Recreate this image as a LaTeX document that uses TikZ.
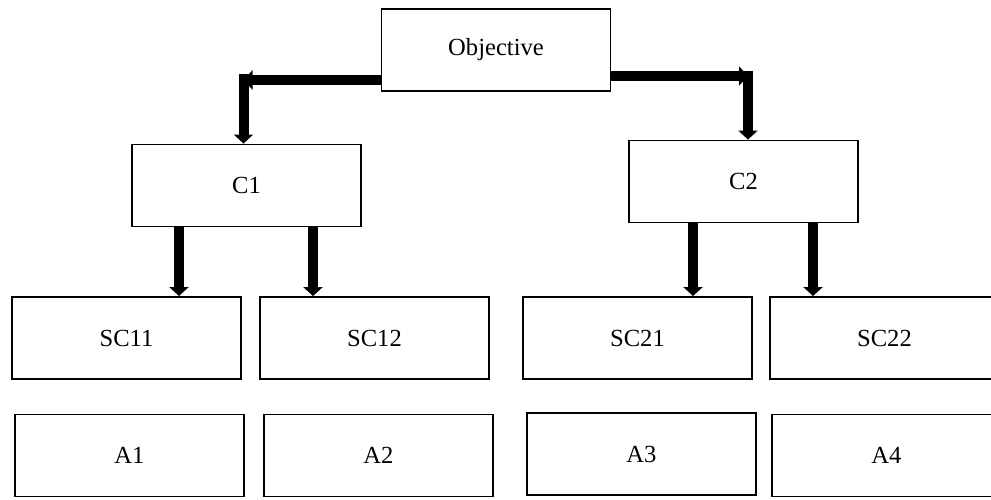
\documentclass[tikz,border=0pt]{standalone}
\usepackage{fontspec}
\setmainfont{Liberation Serif}
\usepackage{tikz}
\usetikzlibrary{arrows.meta, positioning, calc}

\begin{document}
\begin{tikzpicture}[
    x=0.02cm, y=-0.02cm,
    box/.style={rectangle, draw=black, line width=1.1pt, fill=white, minimum width=4.58cm, minimum height=1.64cm, inner sep=0pt, font=\fontsize{14}{16}\selectfont},
    conn/.style={-{Triangle[width=0.38cm, length=0.18cm]}, line width=0.2cm, color=black},
]
\clip (0,0) rectangle (991,500);
\fill[white] (0,0) rectangle (991,500);

\node[box] (obj) at (496,50) {Objective};
\node[box] (c1) at (246.5,185.5) {C1};
\node[box] (c2) at (743.5,181.5) {C2};

\node[box] (sc11) at (126.5,338) {SC11};
\node[box] (sc12) at (374.5,338) {SC12};
\node[box] (sc21) at (637.5,338) {SC21};
\node[box] (sc22) at (884.5,338) {SC22};

\node[box] (a1) at (129.5,455.5) {A1};
\node[box] (a2) at (378.5,455.5) {A2};
\node[box] (a3) at (641.5,454) {A3};
\node[box] (a4) at (886.5,455.5) {A4};

% elbow connectors from the objective
\coordinate (lcorner) at (243.5,80);
\coordinate (rcorner) at (748,76);
\draw[conn] (obj.west |- lcorner) -- (lcorner);
\draw[conn] (243.5,74.5) -- (lcorner |- c1.north);
\draw[conn] (obj.east |- rcorner) -- (rcorner);
\draw[conn] (748,71) -- (rcorner |- c2.north);

\foreach \src/\dst/\x in {c1/sc11/179, c1/sc12/313, c2/sc21/693, c2/sc22/813}
    \draw[conn] (\x,0 |- \src.south) -- (\x,0 |- \dst.north);
\end{tikzpicture}
\end{document}
